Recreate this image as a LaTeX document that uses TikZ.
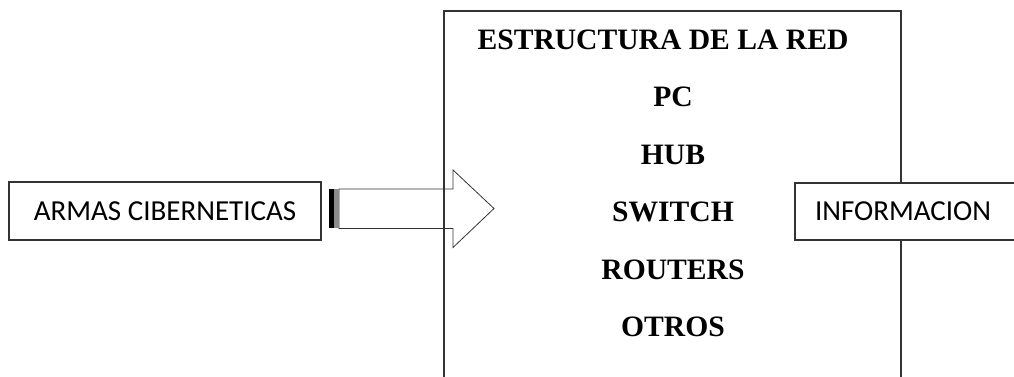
\documentclass[tikz,border=0pt]{standalone}
\usepackage{fontspec}
\setmainfont{Liberation Serif}
\newfontfamily\calibri{Carlito}
\usetikzlibrary{positioning}

\tikzset{
	caja/.style={draw,thick,draw=black!80,fill=white,font=\calibri\fontsize{14.5}{16}\selectfont},
	item/.style={font=\bfseries\fontsize{14.8}{17}\selectfont}
}

\begin{document}
\begin{tikzpicture}[x=0.5pt,y=-0.5pt]
	\clip (0,0) rectangle (1014,376);
	\useasboundingbox (0,0) rectangle (1014,376);

	% bloque central
	\node[caja,minimum width=228.5pt,minimum height=195pt] (red) at (672.5,206) {};
	\node[item] (titulo) at (663,40) {ESTRUCTURA DE LA RED};
	\foreach \i [count=\n] in {PC,HUB,SWITCH,ROUTERS,OTROS}
		\node[item] (L\n) at (673,{97+57.5*(\n-1)}) {\i};

	% entrada y salida
	\node[caja,minimum width=156pt,minimum height=29pt] (armas) at (165,211) {ARMAS CIBERNETICAS};
	\node[caja,minimum width=117.5pt,minimum height=28.5pt,text width=97.5pt,inner xsep=10pt,align=left] (info) at (912.5,211.5) {INFORMACION};

	% flecha de bloque
	\coordinate (cola) at (339,208.5);
	\coordinate (punta) at (494,208.5);
	\draw[black!80] (cola) ++(0,-19.5) -- ++(114,0) -- ++(0,-19) -- (punta)
		-- ++(-41,39) -- ++(0,-19) -- ++(-114,0) -- cycle;
	\fill[black] ([xshift=-5pt]cola) ++(0,-19.5) rectangle ++(2.5pt,39);
	\fill[black!45] ([xshift=-2.5pt]cola) ++(0,-19.5) rectangle ++(2.25pt,39);
\end{tikzpicture}
\end{document}
